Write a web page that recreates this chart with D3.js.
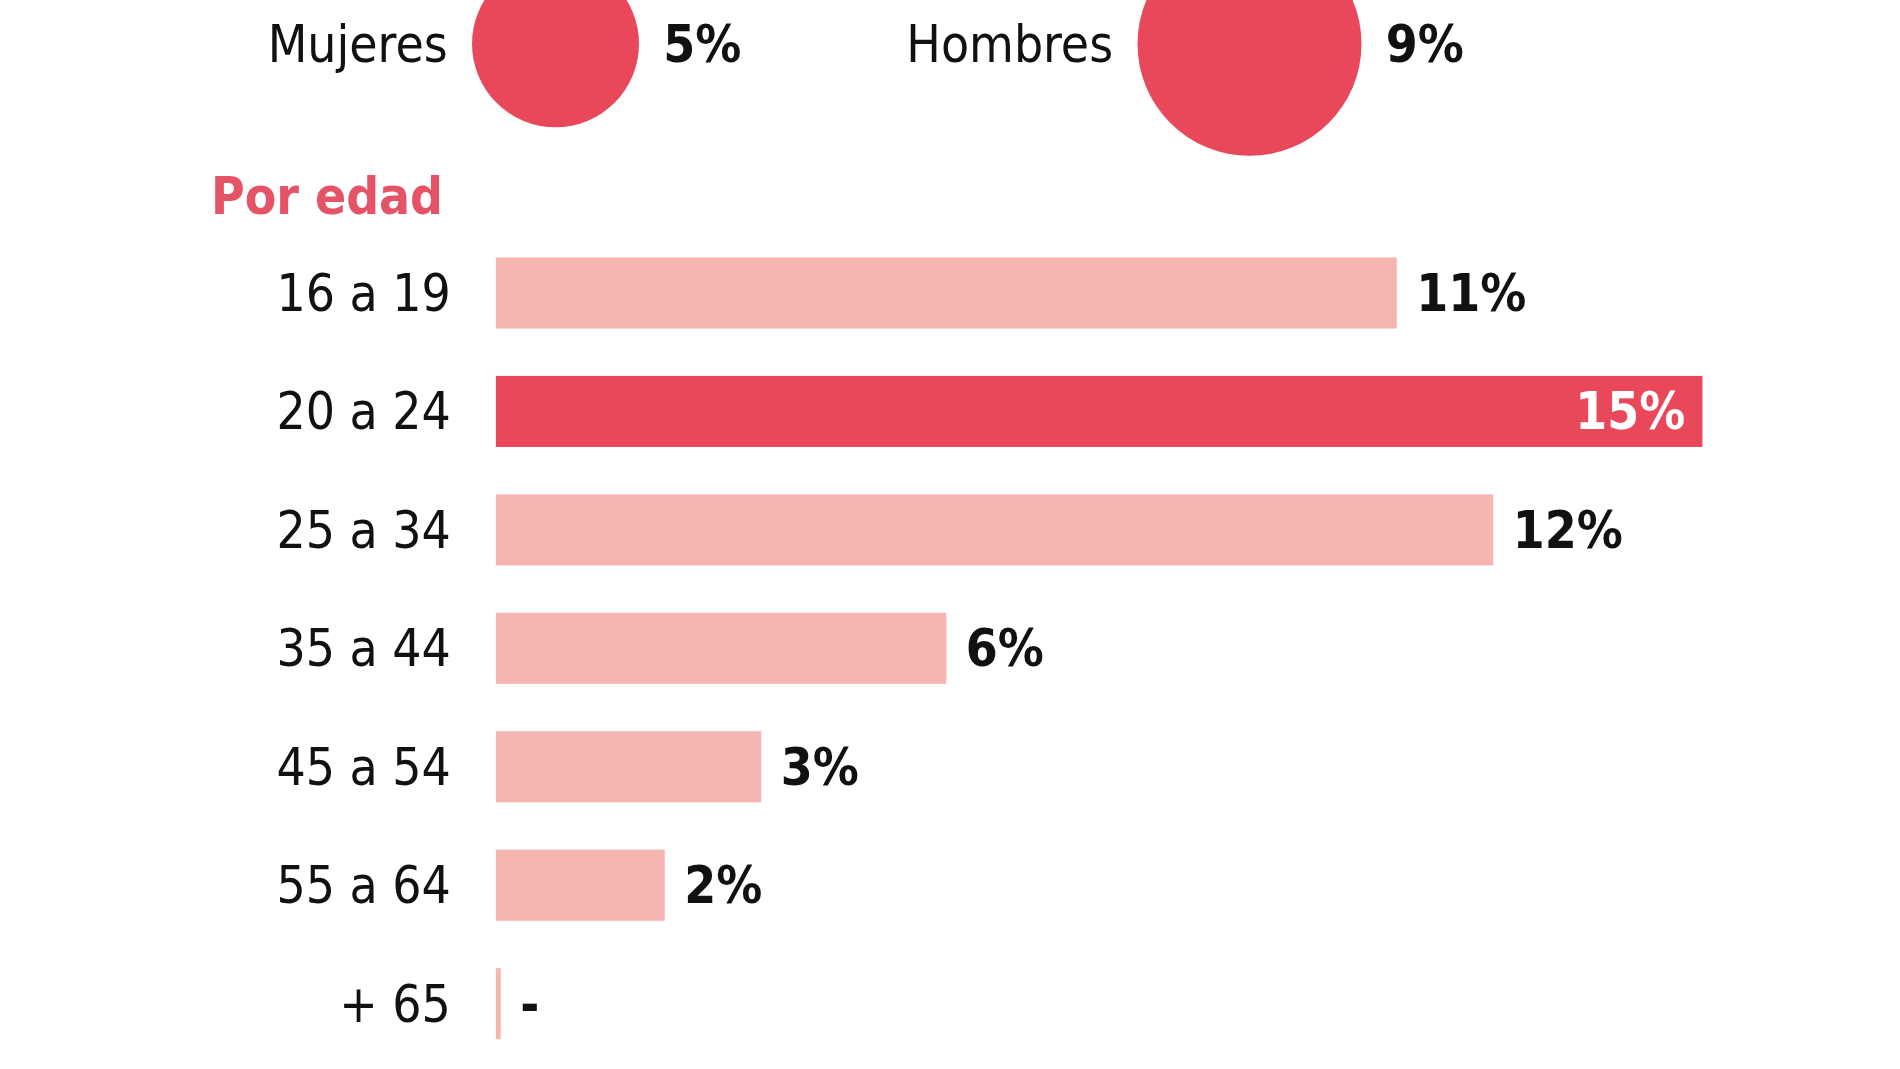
<!DOCTYPE html>
<html><head><meta charset="utf-8">
<script src="https://cdn.jsdelivr.net/npm/d3@7"></script>
<style>
body{margin:0;background:#fff;}
text{font-family:"Liberation Sans Narrow","DejaVu Sans Condensed","Roboto",sans-serif;}
</style></head>
<body><div id="chart"></div>
<script>
// sexo
const sexes = ["Mujeres", "Hombres"];
const sexValues = [5, 9];
// edad
const ages = ["16 a 19", "20 a 24", "25 a 34", "35 a 44", "45 a 54", "55 a 64", "+ 65"];
const ageValues = [11.2, 15, 12.4, 5.6, 3.3, 2.1, 0.06];
const ageLabels = ["11%", "15%", "12%", "6%", "3%", "2%", "-"];

const W = 1560, H = 878;
const svg = d3.select("#chart").append("svg")
    .attr("width", 1900).attr("height", 1069)
    .attr("viewBox", `0 0 ${W} ${H}`);

const red = "#e8485a", pink = "#f5b5b1";

// circles
const r = d3.scaleSqrt().domain([0, 9]).range([0, 92]);
const cx = d3.scaleOrdinal().domain(sexes).range([456, 1026]);
const g1 = svg.append("g").attr("transform", "translate(0,36)");
sexes.forEach((s, i) => {
    const v = sexValues[i];
    g1.append("circle").attr("cx", cx(s)).attr("cy", 0).attr("r", r(v)).attr("fill", red);
    g1.append("text").attr("x", cx(s) - r(v) - 20).attr("y", 0).attr("dy", "0.35em")
        .attr("text-anchor", "end").attr("font-size", 42).attr("fill", "#111").text(s);
    g1.append("text").attr("x", cx(s) + r(v) + 20).attr("y", 0).attr("dy", "0.35em")
        .attr("font-size", 42).attr("font-weight", "bold").attr("fill", "#111").text(v + "%");
});

svg.append("text").attr("x", 173).attr("y", 176).attr("font-size", 42)
    .attr("font-weight", "bold").attr("fill", "#e45366").text("Por edad");

// bars
const x = d3.scaleLinear().domain([0, 15]).range([407, 1398]);
const y = d3.scaleBand().domain(ages).range([192, 873]).paddingInner(0.4).paddingOuter(0.2);

const rows = svg.selectAll(".row").data(ages).enter().append("g").attr("class", "row");
rows.append("rect")
    .attr("x", x(0)).attr("y", d => y(d))
    .attr("width", (d, i) => Math.max(x(ageValues[i]) - x(0), 4))
    .attr("height", y.bandwidth())
    .attr("fill", (d, i) => i === 1 ? red : pink);
rows.append("text")
    .attr("x", 370).attr("y", d => y(d) + y.bandwidth() / 2).attr("dy", "0.35em")
    .attr("text-anchor", "end").attr("font-size", 42).attr("fill", "#111").text(d => d);
rows.append("text")
    .attr("x", (d, i) => i === 1 ? x(ageValues[i]) - 14 : Math.max(x(ageValues[i]), x(0) + 4) + 16)
    .attr("y", d => y(d) + y.bandwidth() / 2).attr("dy", "0.35em")
    .attr("text-anchor", (d, i) => i === 1 ? "end" : "start")
    .attr("font-size", 42).attr("font-weight", "bold")
    .attr("fill", (d, i) => i === 1 ? "#fff" : "#111")
    .text((d, i) => ageLabels[i]);
</script></body></html>
